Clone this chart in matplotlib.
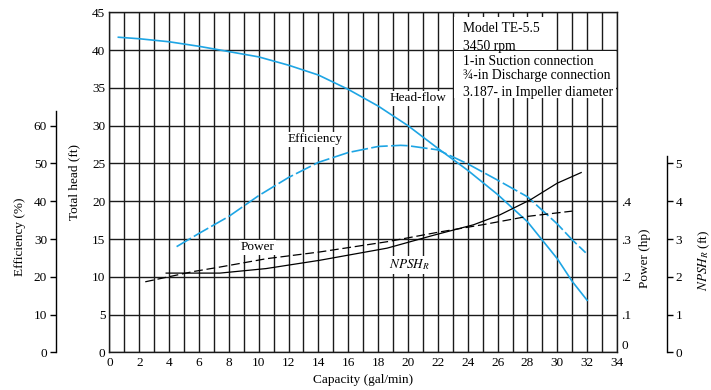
import numpy as np
import matplotlib
matplotlib.use('Agg')
import matplotlib.pyplot as plt
import matplotlib.patches as mpatches

plt.rcParams.update({
    'font.family': 'Liberation Serif',
    'font.size': 9.5,
    'mathtext.fontset': 'stix',
})

CYAN = '#1ea5e4'

# capacity (gal/min) vs total head (ft)
head_q = [0.6, 2, 4, 6, 8, 10, 12, 14, 16, 18, 20, 22, 24, 26, 28, 30, 31, 32]
head_ft = [41.7, 41.5, 41.1, 40.5, 39.8, 39.1, 38.0, 36.7, 34.8, 32.6, 30.0,
           27.0, 24.1, 20.9, 17.3, 12.4, 9.4, 6.9]

# efficiency (%)
eff_q = [4.5, 6, 8, 10, 12, 14, 16, 18, 19.5, 20, 22, 24, 26, 28, 30, 31, 31.9]
eff_pct = [28.0, 31.5, 36.0, 41.5, 46.3, 50.3, 52.9, 54.5, 54.8, 54.7, 53.6,
           49.9, 45.6, 41.2, 34.0, 29.8, 26.4]

# power (hp)
pow_q = [2.4, 5.6, 7.4, 10.5, 14.1, 18.6, 22, 25, 28, 31]
pow_hp = [0.187, 0.214, 0.226, 0.248, 0.266, 0.293, 0.318, 0.338, 0.360, 0.374]

# NPSH required (ft)
npsh_q = [3.8, 7.4, 10.5, 14.1, 18.6, 21.7, 24.4, 26.15, 28.2, 30, 31.6]
npsh_ft = [2.10, 2.10, 2.22, 2.44, 2.76, 3.10, 3.38, 3.64, 4.04, 4.48, 4.76]

info_lines = ['Model TE-5.5', '3450 rpm', '1-in Suction connection',
              '\u00be-in Discharge connection', '3.187- in Impeller diameter']
info_y = [42.8, 40.45, 38.55, 36.6, 34.45]

fig = plt.figure(figsize=(7.11, 3.9), dpi=100)
ax = fig.add_axes([0.1539, 0.0962, 0.7139, 0.8723])

ax.set_xlim(0, 34)
ax.set_ylim(0, 45)
ax.set_xticks(np.arange(0, 35, 2))
ax.set_xticks(np.arange(0, 35, 1), minor=True)
ax.set_yticks(np.arange(0, 46, 5))
ax.set_axisbelow(True)
ax.grid(True, which='both', color='#1a1a1a', lw=1.0)
ax.tick_params(which='both', length=0, pad=3)
for s in ax.spines.values():
    s.set_color('#1a1a1a')
    s.set_linewidth(1.0)
ax.set_xlabel('Capacity (gal/min)')
ax.xaxis.set_label_coords(0.5, -0.062)
ax.set_ylabel('Total head (ft)')
ax.yaxis.set_label_coords(-0.057, 0.5)

# white block behind the pump data
ax.add_patch(mpatches.Rectangle((23.06, 40.06), 29.9 - 23.06, 44.4 - 40.06,
                                facecolor='white', edgecolor='none', zorder=1))
ax.add_patch(mpatches.Rectangle((23.06, 33.7), 33.93 - 23.06, 39.94 - 33.7,
                                facecolor='white', edgecolor='none', zorder=1))
for txt, yy in zip(info_lines, info_y):
    ax.text(23.7, yy, txt, ha='left', va='center', fontsize=9.8, zorder=3)

# curve labels
lbl_box = dict(facecolor='white', edgecolor='none', pad=1.0)
ax.text(20.7, 33.6, 'Head-flow', ha='center', va='center', bbox=lbl_box, zorder=3)
ax.text(13.8, 28.2, 'Efficiency', ha='center', va='center', bbox=lbl_box, zorder=3)
ax.text(9.9, 13.9, 'Power', ha='center', va='center', bbox=lbl_box, zorder=3)
ax.text(20.1, 11.6, '$NPSH_R$', ha='center', va='center', bbox=lbl_box, zorder=3)

ax.plot(head_q, head_ft, color=CYAN, lw=1.2, zorder=4)

# efficiency axis, offset on the left
ax_eff = ax.twinx()
ax_eff.set_ylim(0, 90)
ax_eff.yaxis.tick_left()
ax_eff.yaxis.set_label_position('left')
for side in ('right', 'top', 'bottom'):
    ax_eff.spines[side].set_visible(False)
ax_eff.spines['left'].set_position(('axes', -0.105))
ax_eff.spines['left'].set_bounds(0, 64)
ax_eff.spines['left'].set_linewidth(1.0)
ax_eff.set_yticks(np.arange(0, 61, 10))
ax_eff.tick_params(axis='y', length=4.5, width=1.0, pad=2)
ax_eff.set_ylabel('Efficiency (%)')
ax_eff.yaxis.set_label_coords(-0.165, 0.34)
ax_eff.plot(eff_q, eff_pct, color=CYAN, lw=1.2, dashes=(10, 2))

# power axis, labels against the right frame
ax_pow = ax.twinx()
ax_pow.set_ylim(0, 0.9)
for s in ax_pow.spines.values():
    s.set_visible(False)
ax_pow.set_yticks([0, 0.1, 0.2, 0.3, 0.4])
ax_pow.set_yticklabels(['0', '.1', '.2', '.3', '.4'])
ax_pow.tick_params(axis='y', length=0, pad=3)
# keep the zero clear of the "34" below it
ax_pow.get_yticklabels()[0].set_verticalalignment('bottom')
ax_pow.set_ylabel('Power (hp)')
ax_pow.yaxis.set_label_coords(1.044, 0.278)
ax_pow.plot(pow_q, pow_hp, color='black', lw=0.9, dashes=(7, 3))

# NPSH axis, offset on the right
ax_np = ax.twinx()
ax_np.set_ylim(0, 9)
for side in ('left', 'top', 'bottom'):
    ax_np.spines[side].set_visible(False)
ax_np.spines['right'].set_position(('axes', 1.0985))
ax_np.spines['right'].set_bounds(0, 5.2)
ax_np.spines['right'].set_linewidth(1.0)
ax_np.set_yticks(np.arange(0, 6, 1))
ax_np.tick_params(axis='y', length=4, width=1.0, pad=2)
ax_np.set_ylabel('$NPSH_R$ (ft)')
ax_np.yaxis.set_label_coords(1.157, 0.272)
ax_np.plot(npsh_q, npsh_ft, color='black', lw=0.9)

fig.savefig('out.png', dpi=100, facecolor='white')
